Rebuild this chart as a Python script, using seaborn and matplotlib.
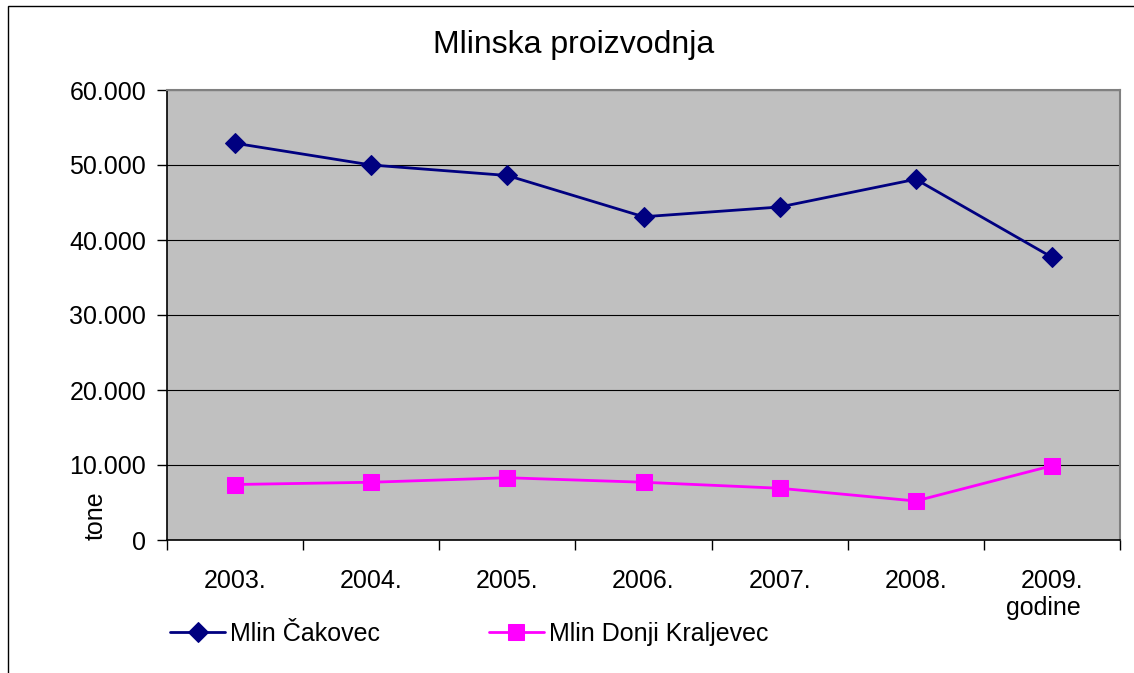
import matplotlib
matplotlib.use("Agg")
import matplotlib.pyplot as plt
import matplotlib.ticker as mticker
import seaborn as sns
import pandas as pd

godine = ["2003.", "2004.", "2005.", "2006.", "2007.", "2008.", "2009."]
mlin_cakovec = [52900, 50000, 48600, 43100, 44400, 48100, 37700]
mlin_donji_kraljevec = [7400, 7700, 8300, 7700, 6900, 5200, 9900]

df = pd.concat([
    pd.DataFrame({"godina": godine, "tone": mlin_cakovec, "mlin": "Mlin Čakovec"}),
    pd.DataFrame({"godina": godine, "tone": mlin_donji_kraljevec, "mlin": "Mlin Donji Kraljevec"}),
])

sns.set_style("white")
plt.rcParams["font.family"] = ["Liberation Sans", "DejaVu Sans"]
plt.rcParams["text.color"] = "black"
plt.rcParams["xtick.color"] = "black"
plt.rcParams["ytick.color"] = "black"

fig = plt.figure(figsize=(11.34, 6.73), dpi=100)
ax = fig.add_axes([167 / 1134, 1 - 540 / 673, (1120 - 167) / 1134, 450 / 673])
ax.set_facecolor("#C0C0C0")

# outer chart frame
fig.patches.append(plt.Rectangle((8 / 1134, -0.05), 1.2, 1 - 6 / 673 + 0.05,
                                 transform=fig.transFigure, fill=False,
                                 edgecolor="black", linewidth=1))

sns.lineplot(data=df[df.mlin == "Mlin Čakovec"], x="godina", y="tone", ax=ax,
             color="#000080", marker="D", markersize=10, linewidth=2,
             markeredgecolor="#000080", label="Mlin Čakovec", sort=False)
sns.lineplot(data=df[df.mlin == "Mlin Donji Kraljevec"], x="godina", y="tone", ax=ax,
             color="#FF00FF", marker="s", markersize=11, linewidth=2,
             markeredgecolor="#FF00FF", label="Mlin Donji Kraljevec", sort=False)

ax.set_xlim(-0.5, 6.5)
ax.set_ylim(0, 60000)
ax.set_yticks(range(0, 60001, 10000))
ax.yaxis.set_major_formatter(mticker.FuncFormatter(
    lambda v, p: "0" if v == 0 else f"{int(v):,}".replace(",", ".")))
ax.yaxis.grid(True, color="black", linewidth=0.8)
ax.set_axisbelow(True)

ax.set_xticks(range(7))
ax.set_xticklabels(godine)
ax.set_xticks([i - 0.5 for i in range(8)], minor=True)
ax.tick_params(axis="x", which="major", length=0, pad=21, labelsize=18)
ax.tick_params(axis="x", which="minor", length=7, width=1, color="black", direction="out")
ax.tick_params(axis="y", length=7, width=1, color="black", direction="out", labelsize=18, pad=8)
ax.tick_params(left=True, bottom=True, which="both")

for s in ["left", "bottom"]:
    ax.spines[s].set_color("black")
    ax.spines[s].set_linewidth(1.2)
for s in ["top", "right"]:
    ax.spines[s].set_color("#808080")
    ax.spines[s].set_linewidth(1.5)

ax.set_xlabel("")
ax.set_ylabel("")
ax.text(-0.075, 0.0, "tone", transform=ax.transAxes, rotation=90,
        ha="center", va="bottom", fontsize=18)
fig.text(1043 / 1134, 1 - 608 / 673, "godine", ha="center", va="center", fontsize=18)
fig.text(574 / 1134, 1 - 45 / 673, "Mlinska proizvodnja", ha="center", va="center", fontsize=23)

ax.legend(loc="center left", bbox_to_anchor=(170 / 1134, 1 - 634 / 673),
          bbox_transform=fig.transFigure, ncol=2, frameon=False, fontsize=18,
          handlelength=2.2, handletextpad=0.2, columnspacing=4.35, borderaxespad=0,
          borderpad=0)

fig.savefig("out.png", dpi=100)
